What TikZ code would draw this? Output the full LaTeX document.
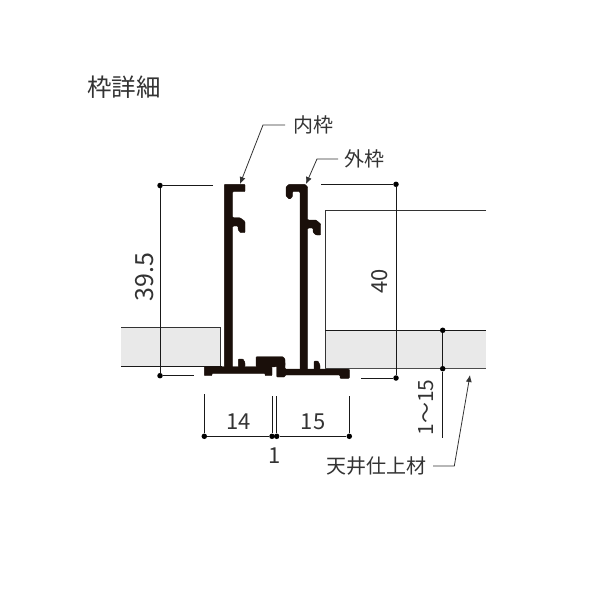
\documentclass[tikz,border=0pt]{standalone}
\usepackage{fontspec}
\setmainfont{Noto Sans CJK JP}
\usepackage{xcolor}
\usetikzlibrary{arrows.meta}
\definecolor{framecol}{HTML}{1A0F0A}
\definecolor{panelcol}{HTML}{E9E9E9}
\definecolor{textcol}{HTML}{333333}
\tikzset{
    dimdot/.style={circle, fill=black, inner sep=0pt, minimum size=5.5pt},
    dimline/.style={line width=0.9pt, color=black!90},
    leader/.style={line width=0.8pt, color=black!80},
    tip/.style={-{Latex[length=7pt, width=6pt]}},
    label/.style={color=textcol, inner sep=0pt, font=\fontsize{20}{20}\selectfont},
    number/.style={label, font=\fontsize{22}{22}\selectfont},
    profile/.style={fill=framecol, draw=framecol, line width=0.4pt, rounded corners=0.8pt},
}

\begin{document}
\begin{tikzpicture}[x=1pt, y=-1pt]
    \useasboundingbox (0,0) rectangle (600,600);

    \node[label, font=\fontsize{24.5}{24.5}\selectfont] (title) at (124,87) {枠詳細};

    % ceiling panels
    \fill[panelcol] (121,328) rectangle (220.7,366);
    \fill[panelcol] (325,330) rectangle (486,368.7);
    \draw[leader] (121,327.5) -- (220.7,327.5) -- (220.7,366);
    \draw[dimline] (121,366) -- (222,366);
    \draw[leader] (486,210) -- (325,210) -- (325,368.7);
    \draw[dimline] (325,330) -- (486,330);
    \draw[dimline, color=black!70] (325,368.7) -- (486,368.7);

    % inner frame
    \fill[profile] (224.3,367) -- (224.3,184.3) -- (245,184.3) -- (245,191.7) -- (232.7,191.7)
        -- (232.7,217.7) -- (240,217.7) -- (245,221.5) -- (245,232.7) -- (240.5,232.7)
        -- (238,229.5) -- (238,226) -- (232.7,226) -- (232.7,367) -- cycle;
    \fill[profile] (204.3,366.7) -- (272,366.7) -- (272,375.7) -- (265,375.7) -- (265,373.3)
        -- (212,373.3) -- (212,375.7) -- (204.3,375.7) -- cycle;
    \fill[profile] (238.3,367) -- (238.3,359) -- (243,359) -- (245,362.5) -- (245,367) -- cycle;

    % outer frame
    \fill[profile] (300,370) -- (300,191.7) -- (292.3,191.7) -- (292.3,197) -- (289.5,199.3)
        -- (286,196) -- (286,187) -- (289,184.3) -- (305,184.3) -- (307.7,187) -- (307.7,220)
        -- (316,220) -- (320.7,224) -- (320.7,235) -- (316,235) -- (313,232) -- (313,228)
        -- (307.7,228) -- (307.7,370) -- cycle;
    \fill[profile] (276.7,362) -- (285,362) -- (285,369) -- (349.3,369) -- (349.3,378.3)
        -- (340,378.3) -- (340,375) -- (285,375) -- (285,377) -- (276.7,377) -- cycle;
    \fill[profile] (314,369.5) -- (314,361) -- (318,361) -- (320,365) -- (320,369.5) -- cycle;
    \fill[profile] (256,367) -- (256,356.7) -- (283,356.7) -- (285,359) -- (285,366)
        -- (272,367) -- cycle;

    % 39.5
    \node[dimdot] (hl1) at (160,185.5) {};
    \node[dimdot] (hl2) at (160,375.7) {};
    \coordinate (hl1e) at (213,185.5);
    \coordinate (hl2e) at (194,375.7);
    \draw[dimline] (hl1e) -- (hl1) -- (hl2) -- (hl2e);
    \node[number, font=\fontsize{25}{25}\selectfont, rotate=90] (hltext) at (145,277) {39.5};

    % 40
    \node[dimdot] (hr1) at (396,184.3) {};
    \node[dimdot] (hr2) at (396,378) {};
    \coordinate (hr1e) at (321,184.3);
    \coordinate (hr2e) at (361,378);
    \draw[dimline] (hr1e) -- (hr1) -- (hr2) -- (hr2e);
    \node[number, rotate=90] (hrtext) at (380,281) {40};

    % 1-15
    \node[dimdot] (th1) at (442.7,330.3) {};
    \node[dimdot] (th2) at (442.7,368.7) {};
    \coordinate (th3) at (442.7,438);
    \draw[dimline] (th1) -- (th2) -- (th3);
    \node[label, font=\fontsize{21}{21}\selectfont, rotate=90] (thtext) at (426,407.5) {1〜15};

    % 14, 1, 15
    \node[dimdot] (w1) at (204.3,436.3) {};
    \node[dimdot] (w2) at (272,436.3) {};
    \node[dimdot] (w3) at (276.7,436.3) {};
    \node[dimdot] (w4) at (349.3,436.3) {};
    \coordinate (w1e) at (204.3,394);
    \coordinate (w2e) at (272,396);
    \coordinate (w3e) at (276.7,396);
    \coordinate (w4e) at (349.3,396);
    \draw[dimline] (w1e) -- (w1) -- (w2);
    \draw[dimline] (w2e) -- (w2);
    \draw[dimline] (w3e) -- (w3) -- (w4) -- (w4e);
    \node[number] (wtext1) at (238.5,421.5) {14};
    \node[number] (wtext2) at (313,421.5) {15};
    \node[number] (wtext3) at (275,455.5) {1};

    % leaders
    \node[label] (inner) at (313,124.5) {内枠};
    \coordinate (inner1) at (285,125);
    \coordinate (inner2) at (263,125);
    \coordinate (inner3) at (240,184);
    \draw[leader, tip] (inner1) -- (inner2) -- (inner3);

    \node[label] (outer) at (364,159) {外枠};
    \coordinate (outer1) at (338,159);
    \coordinate (outer2) at (317,159);
    \coordinate (outer3) at (306,184);
    \draw[leader, tip] (outer1) -- (outer2) -- (outer3);

    \node[label] (ceil) at (376,466) {天井仕上材};
    \coordinate (ceil1) at (433,466);
    \coordinate (ceil2) at (454.3,466);
    \coordinate (ceil3) at (470,375);
    \draw[leader, tip] (ceil1) -- (ceil2) -- (ceil3);
\end{tikzpicture}
\end{document}
